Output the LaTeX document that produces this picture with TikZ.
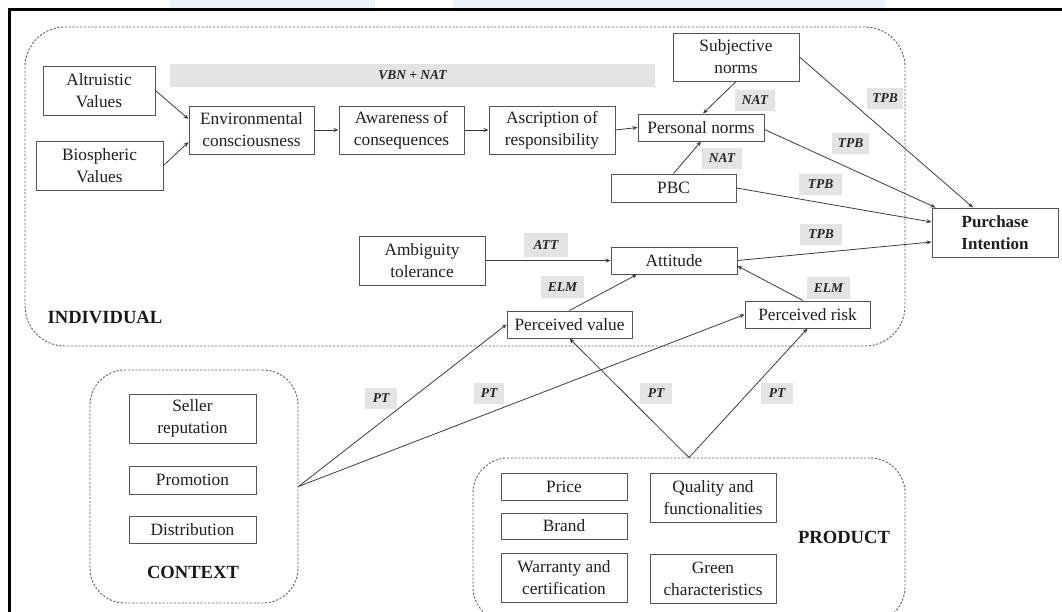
\documentclass[tikz,border=0pt]{standalone}
\usepackage{fontspec}
\setmainfont{Liberation Serif}
\usetikzlibrary{arrows.meta}
\definecolor{lblgray}{RGB}{228,228,228}
\definecolor{linec}{RGB}{60,60,60}
\definecolor{boxc}{RGB}{85,85,85}
\definecolor{dashc}{RGB}{95,95,95}
\definecolor{topblue}{RGB}{234,244,252}
\begin{document}
\begin{tikzpicture}[x=1pt,y=-1pt,
  box/.style={draw=boxc, line width=1pt, fill=white, inner sep=0pt, align=center,
    font=\fontsize{17.3}{22}\selectfont, text=black!88},
  lbl/.style={fill=lblgray, inner sep=0pt, font=\fontsize{13.5}{16}\selectfont\bfseries\itshape,
    minimum height=21pt, text=black!85},
  grp/.style={draw=dashc, dash pattern=on 2.2pt off 1.6pt, line width=0.9pt, inner sep=0pt},
  conn/.style={draw=linec, line width=0.8pt, -{Stealth[length=5pt,width=4pt]}},
  glbl/.style={font=\fontsize{18.6}{22}\selectfont\bfseries, text=black!90}]
\useasboundingbox (0,0) rectangle (1062,611);
\clip (0,0) rectangle (1062,611);
% top strip and frame
\fill[topblue] (170,0) rectangle (375,7.5);
\fill[topblue] (453,0) rectangle (885,7.5);
\draw[line width=3pt] (9,612) -- (9,9) -- (1063,9);

% groups
\node[grp, rounded corners=40pt, minimum width=880pt, minimum height=319pt] (indiv) at (465,186.5) {};
\node[grp, rounded corners=35pt, minimum width=208pt, minimum height=233pt] (ctx) at (194,486.5) {};
\node[grp, rounded corners=35pt, minimum width=432pt, minimum height=164pt] (prod) at (689,540) {};

\node[glbl] (indivlbl) at (105,317) {INDIVIDUAL};
\node[glbl] (ctxlbl) at (193,572) {CONTEXT};
\node[glbl] (prodlbl) at (844,537) {PRODUCT};

% theory bar
\node[fill=lblgray, inner sep=0pt, minimum width=485pt, minimum height=23pt,
  font=\fontsize{13.5}{16}\selectfont\bfseries\itshape, text=black!85] (vbn) at (412.5,75.5) {VBN + NAT};

% individual nodes
\node[box, minimum width=112pt, minimum height=49pt] (alt) at (99,90.5) {Altruistic\\Values};
\node[box, minimum width=127pt, minimum height=49pt] (bio) at (99.5,165.5) {Biospheric\\Values};
\node[box, minimum width=125pt, minimum height=48pt] (env) at (251.5,130) {Environmental\\consciousness};
\node[box, minimum width=125pt, minimum height=48pt] (awa) at (401.5,130) {Awareness of\\consequences};
\node[box, minimum width=126pt, minimum height=48pt] (asc) at (552,130) {Ascription of\\responsibility};
\node[box, minimum width=126pt, minimum height=27pt] (pn) at (701,127.5) {Personal norms};
\node[box, minimum width=126pt, minimum height=48pt] (sn) at (736,57) {Subjective\\norms};
\node[box, minimum width=125pt, minimum height=28pt] (pbc) at (673.5,188) {PBC};
\node[box, minimum width=126pt, minimum height=49pt, font=\fontsize{17}{22}\selectfont\bfseries] (pi) at (995,232.5) {Purchase\\Intention};
\node[box, minimum width=126pt, minimum height=49pt] (amb) at (422,260.5) {Ambiguity\\tolerance};
\node[box, minimum width=126pt, minimum height=27pt] (att) at (674,260.5) {Attitude};
\node[box, minimum width=125pt, minimum height=27pt] (pv) at (569.5,324.5) {Perceived value};
\node[box, minimum width=125pt, minimum height=27pt] (pr) at (807.5,314.5) {Perceived risk};

% context nodes
\node[box, minimum width=127pt, minimum height=49pt] (sel) at (192.5,418.5) {Seller\\reputation};
\node[box, minimum width=127pt, minimum height=28pt] (promo) at (192.5,480) {Promotion};
\node[box, minimum width=127pt, minimum height=27pt] (dist) at (192.5,529.5) {Distribution};

% product nodes
\node[box, minimum width=126pt, minimum height=27pt] (price) at (564,486.5) {Price};
\node[box, minimum width=126pt, minimum height=26pt] (brand) at (564,526) {Brand};
\node[box, minimum width=126pt, minimum height=49pt] (war) at (564,577.5) {Warranty and\\certification};
\node[box, minimum width=126pt, minimum height=49pt] (qual) at (713,497.5) {Quality and\\functionalities};
\node[box, minimum width=126pt, minimum height=49pt] (green) at (713,578.5) {Green\\characteristics};

% connectors
\draw[conn] (alt.east) -- ([yshift=11pt]env.west);
\draw[conn] (bio.east) -- ([yshift=-12pt]env.west);
\draw[conn] (env.east) -- (awa.west);
\draw[conn] (awa.east) -- (asc.west);
\draw[conn] (asc.east) -- (pn.west);
\draw[conn] (sn.south) -- ([xshift=2pt]pn.north);
\draw[conn] (pbc.north) -- (pn.south);
\draw[conn] (sn.east) -- ([xshift=-22pt]pi.north);
\draw[conn] ([yshift=-2pt]pn.east) -- ([xshift=4pt]pi.north west);
\draw[conn] (pbc.east) -- ([yshift=10.5pt]pi.west);
\draw[conn] (att.east) -- ([yshift=-9.5pt]pi.west);
\draw[conn] (amb.east) -- (att.west);
\draw[conn] (pv.north) -- ([xshift=-37pt]att.south);
\draw[conn] ([xshift=-4.5pt]pr.north) -- ([yshift=-5.5pt]att.east);
\draw[conn] (ctx.east) -- (pv.west);
\draw[conn] (ctx.east) -- (pr.west);
\draw[conn] (prod.north) -- (pv.south);
\draw[conn] (prod.north) -- (pr.south);

% theory labels
\node[lbl, minimum width=40pt] (nat1) at (755,100) {NAT};
\node[lbl, minimum width=40pt] (nat2) at (722,158.5) {NAT};
\node[lbl, minimum width=36pt] (tpb1) at (885,98.5) {TPB};
\node[lbl, minimum width=37pt] (tpb2) at (850.5,143.5) {TPB};
\node[lbl, minimum width=43pt] (tpb3) at (820.5,184) {TPB};
\node[lbl, minimum width=42pt] (tpb4) at (821,234) {TPB};
\node[lbl, minimum width=44pt, minimum height=24pt] (att1) at (546,245) {ATT};
\node[lbl, minimum width=43pt, minimum height=22pt] (elm1) at (562.5,287) {ELM};
\node[lbl, minimum width=43pt, minimum height=22pt] (elm2) at (828.5,288) {ELM};
\node[lbl, minimum width=32pt] (pt1) at (381,398.5) {PT};
\node[lbl, minimum width=30pt] (pt2) at (489,393.5) {PT};
\node[lbl, minimum width=32pt] (pt3) at (656,393.5) {PT};
\node[lbl, minimum width=32pt] (pt4) at (777,393) {PT};
\end{tikzpicture}
\end{document}
